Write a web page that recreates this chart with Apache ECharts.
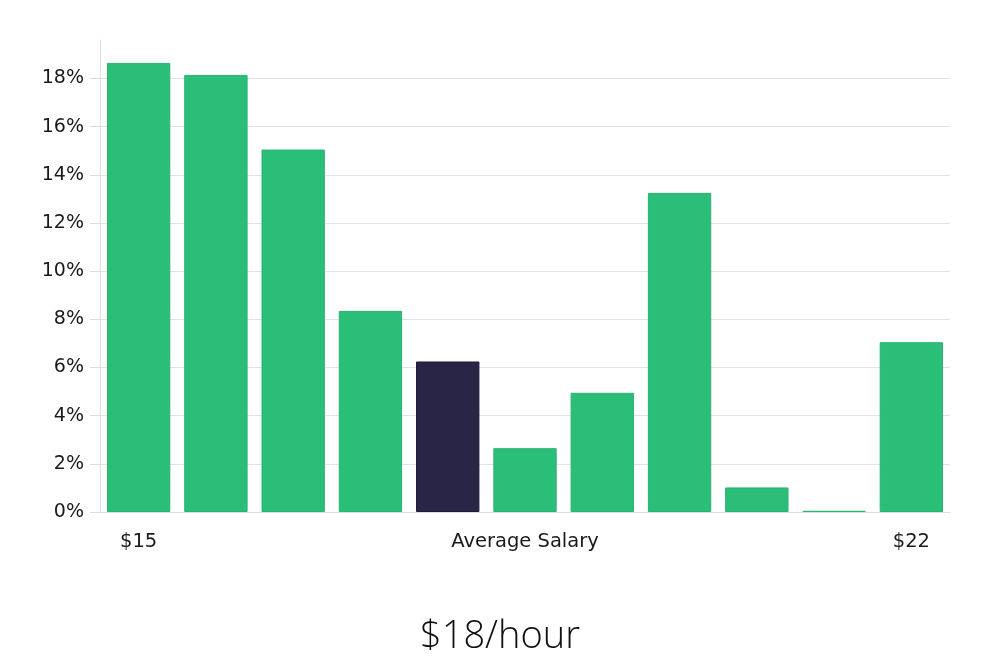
<!DOCTYPE html>
<html>
<head>
<meta charset="utf-8">
<title>Average Salary</title>
<script src="https://cdn.jsdelivr.net/npm/echarts@6/dist/echarts.min.js"></script>
<style>
  html, body { margin: 0; padding: 0; background: #fff; }
  #chart { width: 1000px; height: 660px; }
</style>
</head>
<body>
<div id="chart"></div>
<script>
// salary buckets ($15 .. $22), only the ends and middle are labelled
const categories = ['$15', '', '', '', '', 'Average Salary', '', '', '', '', '$22']
const shares = [18.65, 18.15, 15.05, 8.35, 6.25, 2.65, 4.95, 13.25, 1.02, 0.05, 7.05]
const highlightIndex = 4
const yTicks = [0, 2, 4, 6, 8, 10, 12, 14, 16, 18]
const titleText = '$18/hour'

const green = '#2bbe78'
const dark = '#282546'

const chart = echarts.init(document.getElementById('chart'))

const option = {
  animation: false,
  title: {
    text: titleText,
    left: 'center',
    top: 613,
    textStyle: {
      fontFamily: 'Open Sans',
      fontWeight: 300,
      fontSize: 38,
      color: '#111'
    }
  },
  grid: {
    left: 100,
    right: 50,
    top: 40,
    bottom: 148
  },
  xAxis: {
    type: 'category',
    data: categories,
    axisLine: { lineStyle: { color: '#ddd' } },
    axisTick: { show: false },
    axisLabel: {
      interval: 0,
      color: '#1a1a1a',
      fontFamily: 'DejaVu Sans',
      fontSize: 19.5,
      margin: 20
    }
  },
  yAxis: {
    type: 'value',
    min: 0,
    max: 19.6,
    axisLine: { show: true, lineStyle: { color: '#ddd' } },
    axisTick: {
      show: true,
      length: 10,
      customValues: yTicks,
      lineStyle: { color: '#ddd' }
    },
    axisLabel: {
      customValues: yTicks,
      formatter: '{value}%',
      color: '#1a1a1a',
      fontFamily: 'DejaVu Sans',
      fontSize: 19,
      margin: 16
    },
    splitLine: { lineStyle: { color: '#e2e2e2' } }
  },
  series: [
    {
      type: 'bar',
      barCategoryGap: '18%',
      data: shares.map((v, i) => ({
        value: v,
        itemStyle: i === highlightIndex
          ? { color: dark, borderColor: '#1d1a38', borderWidth: 1 }
          : { color: green, borderColor: '#29b372', borderWidth: 1 }
      }))
    }
  ]
}

chart.setOption(option)
</script>
</body>
</html>
